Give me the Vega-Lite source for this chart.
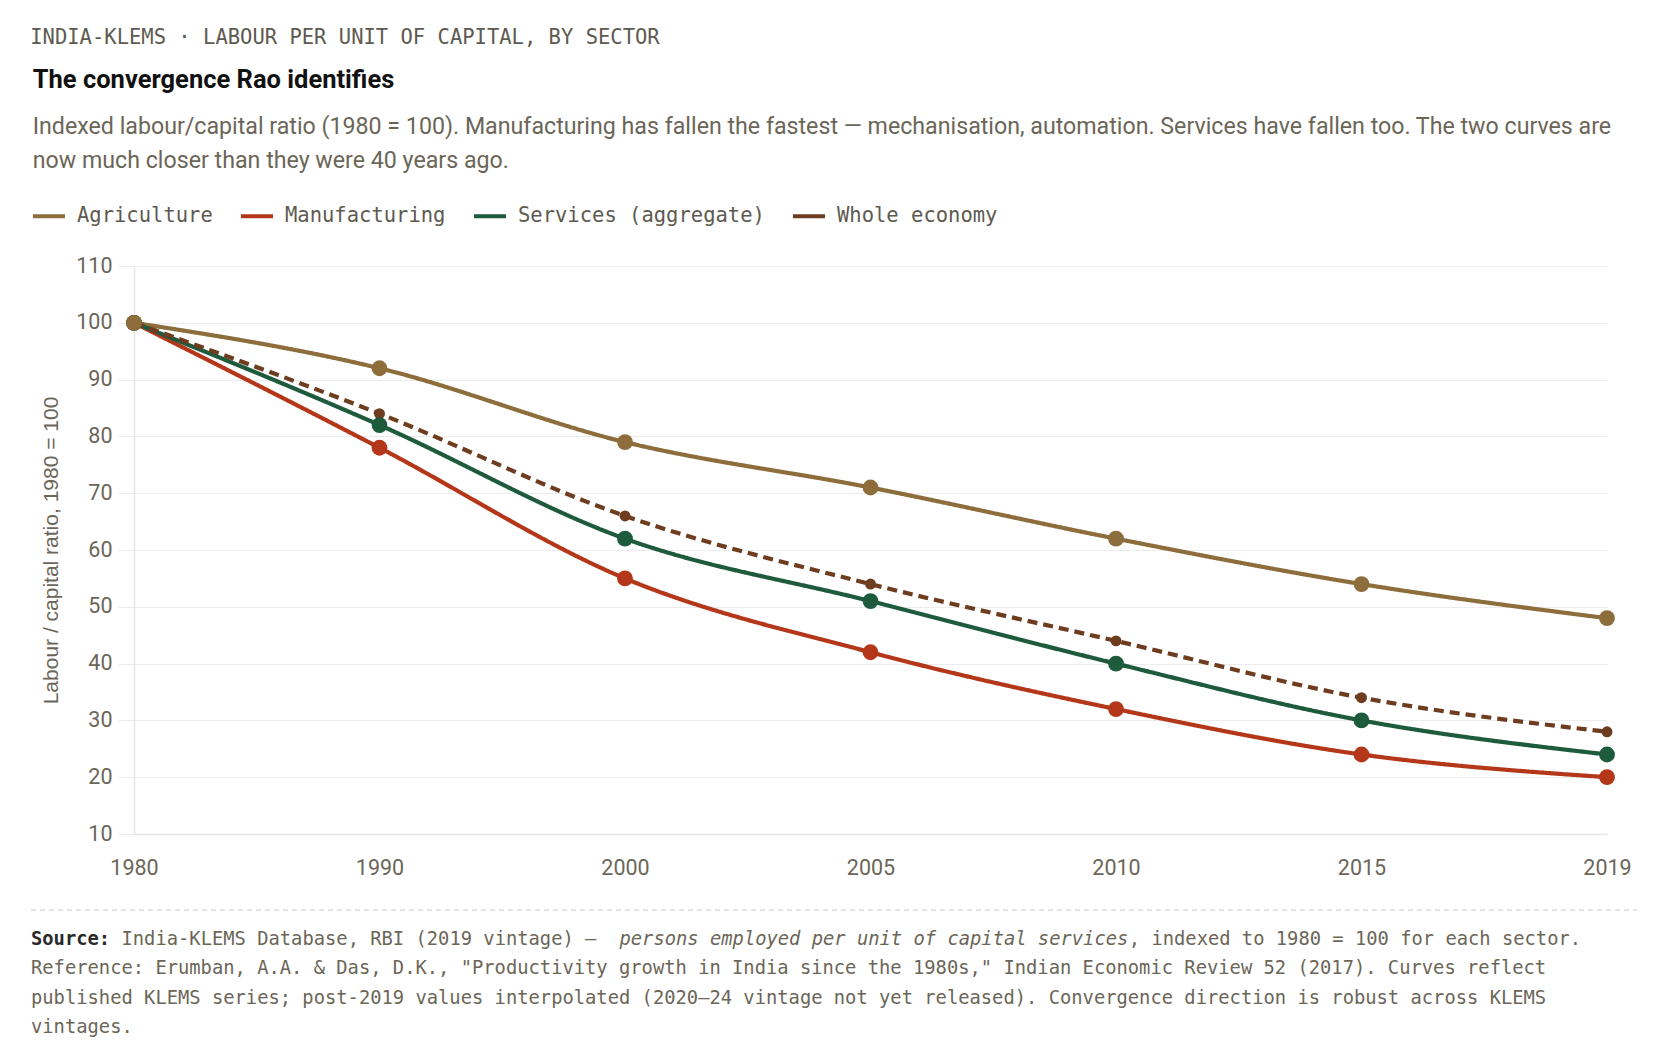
{
  "$schema": "https://vega.github.io/schema/vega-lite/v6.json",
  "background": "#ffffff",
  "padding": {"left": 30, "top": 27, "right": 20, "bottom": 10},
  "title": {
    "text": "INDIA-KLEMS · LABOUR PER UNIT OF CAPITAL, BY SECTOR",
    "anchor": "start",
    "font": "DejaVu Sans Mono",
    "fontSize": 20.5,
    "fontWeight": "normal",
    "color": "#5e5a50",
    "offset": 20
  },
  "config": {"view": {"stroke": null}, "font": "Roboto"},
  "columns": 1,
  "spacing": 30,
  "concat": [
    {
      "width": 1473,
      "height": 568,
      "title": {
        "text": "The convergence Rao identifies",
        "subtitle": [
          "Indexed labour/capital ratio (1980 = 100). Manufacturing has fallen the fastest — mechanisation, automation. Services have fallen too. The two curves are",
          "now much closer than they were 40 years ago."
        ],
        "anchor": "start",
        "dx": -7.5,
        "font": "Roboto",
        "fontSize": 25.5,
        "fontWeight": "bold",
        "color": "#111111",
        "subtitleFont": "Roboto",
        "subtitleFontSize": 23.2,
        "subtitleColor": "#6b6658",
        "subtitleLineHeight": 34,
        "subtitlePadding": 22,
        "offset": 83
      },
      "data": {
        "values": [
          {"year": "1980", "sector": "Agriculture", "value": 100},
          {"year": "1990", "sector": "Agriculture", "value": 92},
          {"year": "2000", "sector": "Agriculture", "value": 79},
          {"year": "2005", "sector": "Agriculture", "value": 71},
          {"year": "2010", "sector": "Agriculture", "value": 62},
          {"year": "2015", "sector": "Agriculture", "value": 54},
          {"year": "2019", "sector": "Agriculture", "value": 48},
          {"year": "1980", "sector": "Manufacturing", "value": 100},
          {"year": "1990", "sector": "Manufacturing", "value": 78},
          {"year": "2000", "sector": "Manufacturing", "value": 55},
          {"year": "2005", "sector": "Manufacturing", "value": 42},
          {"year": "2010", "sector": "Manufacturing", "value": 32},
          {"year": "2015", "sector": "Manufacturing", "value": 24},
          {"year": "2019", "sector": "Manufacturing", "value": 20},
          {"year": "1980", "sector": "Services (aggregate)", "value": 100},
          {"year": "1990", "sector": "Services (aggregate)", "value": 82},
          {"year": "2000", "sector": "Services (aggregate)", "value": 62},
          {"year": "2005", "sector": "Services (aggregate)", "value": 51},
          {"year": "2010", "sector": "Services (aggregate)", "value": 40},
          {"year": "2015", "sector": "Services (aggregate)", "value": 30},
          {"year": "2019", "sector": "Services (aggregate)", "value": 24},
          {"year": "1980", "sector": "Whole economy", "value": 100},
          {"year": "1990", "sector": "Whole economy", "value": 84},
          {"year": "2000", "sector": "Whole economy", "value": 66},
          {"year": "2005", "sector": "Whole economy", "value": 54},
          {"year": "2010", "sector": "Whole economy", "value": 44},
          {"year": "2015", "sector": "Whole economy", "value": 34},
          {"year": "2019", "sector": "Whole economy", "value": 28}
        ]
      },
      "encoding": {
        "x": {
          "field": "year",
          "type": "ordinal",
          "scale": {"type": "point", "padding": 0},
          "axis": {
            "title": null,
            "labelAngle": 0,
            "labelFont": "Roboto",
            "labelFontSize": 21.5,
            "labelColor": "#6b6658",
            "ticks": false,
            "labelPadding": 23,
            "domainColor": "#e6e6e6",
            "domainWidth": 1.5,
            "grid": false
          }
        },
        "y": {
          "field": "value",
          "type": "quantitative",
          "scale": {"domain": [10, 110], "nice": false, "zero": false},
          "axis": {
            "title": "Labour / capital ratio, 1980 = 100",
            "values": [10, 20, 30, 40, 50, 60, 70, 80, 90, 100, 110],
            "titleFont": "Liberation Sans",
            "titleFontSize": 21,
            "titleFontWeight": "normal",
            "titleColor": "#6b6658",
            "titlePadding": 14.5,
            "labelFont": "Roboto",
            "labelFontSize": 21.5,
            "labelColor": "#6b6658",
            "labelPadding": 6,
            "tickSize": 16,
            "tickColor": "#ebebeb",
            "gridColor": "#ececec",
            "domainColor": "#e6e6e6",
            "domainWidth": 1.5
          }
        },
        "color": {
          "field": "sector",
          "type": "nominal",
          "scale": {
            "domain": ["Agriculture", "Manufacturing", "Services (aggregate)", "Whole economy"],
            "range": ["#8c6d3b", "#b4371a", "#1e5a3c", "#6e3c1e"]
          },
          "legend": {
            "title": null,
            "orient": "none",
            "legendX": -103,
            "legendY": -68,
            "direction": "horizontal",
            "symbolType": "stroke",
            "symbolStrokeWidth": 4,
            "symbolSize": 1024,
            "symbolOpacity": 1,
            "labelFont": "DejaVu Sans Mono",
            "labelFontSize": 20.5,
            "labelColor": "#5e5a50",
            "labelOffset": 10,
            "labelLimit": 500,
            "columnPadding": 20
          }
        }
      },
      "layer": [
        {
          "mark": {"type": "line", "interpolate": "monotone", "strokeWidth": 4.2},
          "encoding": {
            "strokeDash": {
              "condition": {"test": "datum.sector === 'Whole economy'", "value": [10, 6]},
              "value": [1, 0]
            }
          }
        },
        {
          "transform": [{"filter": "datum.sector === 'Whole economy'"}],
          "mark": {"type": "circle", "opacity": 1, "size": 120}
        },
        {
          "transform": [{"filter": "datum.sector === 'Manufacturing' || datum.sector === 'Services (aggregate)'"}],
          "mark": {"type": "circle", "opacity": 1, "size": 250}
        },
        {
          "transform": [{"filter": "datum.sector === 'Agriculture'"}],
          "mark": {"type": "circle", "opacity": 1, "size": 250}
        }
      ]
    },
    {
      "width": 1473,
      "height": 146,
      "data": {
        "values": [
          {"line": 1, "seg": "bold", "text": "Source:"},
          {"line": 1, "seg": "a", "text": "India-KLEMS Database, RBI (2019 vintage) —"},
          {"line": 1, "seg": "italic", "text": "persons employed per unit of capital services"},
          {"line": 1, "seg": "b", "text": ", indexed to 1980 = 100 for each sector."},
          {"line": 2, "seg": "plain", "text": "Reference: Erumban, A.A. & Das, D.K., \"Productivity growth in India since the 1980s,\" Indian Economic Review 52 (2017). Curves reflect"},
          {"line": 3, "seg": "plain", "text": "published KLEMS series; post-2019 values interpolated (2020–24 vintage not yet released). Convergence direction is robust across KLEMS"},
          {"line": 4, "seg": "plain", "text": "vintages."}
        ]
      },
      "layer": [
        {
          "data": {"values": [{"sep": "rule"}]},
          "mark": {"type": "rule", "strokeDash": [5, 4], "color": "#dcdcdc", "strokeWidth": 1.5},
          "encoding": {"x": {"value": -103}, "x2": {"value": 1503}, "y": {"value": 0}}
        },
        {
          "transform": [{"filter": "datum.seg === 'bold'"}],
          "mark": {"type": "text", "align": "left", "baseline": "middle", "font": "DejaVu Sans Mono", "fontSize": 18.8, "fontWeight": "bold", "color": "#2a2a2a"},
          "encoding": {
            "x": {"value": -103},
            "y": {"field": "line", "type": "ordinal", "scale": {"type": "point", "padding": 1.107}, "axis": null},
            "text": {"field": "text"}
          }
        },
        {
          "transform": [{"filter": "datum.seg === 'a'"}],
          "mark": {"type": "text", "align": "left", "baseline": "middle", "font": "DejaVu Sans Mono", "fontSize": 18.8, "color": "#6b6658", "dx": 90.5},
          "encoding": {
            "x": {"value": -103},
            "y": {"field": "line", "type": "ordinal", "axis": null},
            "text": {"field": "text"}
          }
        },
        {
          "transform": [{"filter": "datum.seg === 'italic'"}],
          "mark": {"type": "text", "align": "left", "baseline": "middle", "font": "DejaVu Sans Mono", "fontSize": 18.8, "fontStyle": "italic", "color": "#6b6658", "dx": 588.5},
          "encoding": {
            "x": {"value": -103},
            "y": {"field": "line", "type": "ordinal", "axis": null},
            "text": {"field": "text"}
          }
        },
        {
          "transform": [{"filter": "datum.seg === 'b'"}],
          "mark": {"type": "text", "align": "left", "baseline": "middle", "font": "DejaVu Sans Mono", "fontSize": 18.8, "color": "#6b6658", "dx": 1097.8},
          "encoding": {
            "x": {"value": -103},
            "y": {"field": "line", "type": "ordinal", "axis": null},
            "text": {"field": "text"}
          }
        },
        {
          "transform": [{"filter": "datum.seg === 'plain'"}],
          "mark": {"type": "text", "align": "left", "baseline": "middle", "font": "DejaVu Sans Mono", "fontSize": 18.8, "color": "#6b6658"},
          "encoding": {
            "x": {"value": -103},
            "y": {"field": "line", "type": "ordinal", "axis": null},
            "text": {"field": "text"}
          }
        }
      ]
    }
  ]
}
